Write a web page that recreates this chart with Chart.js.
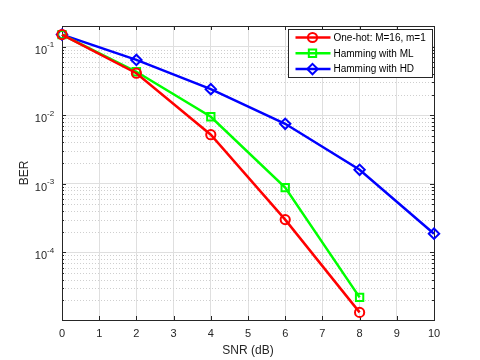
<!DOCTYPE html>
<html>
<head>
<meta charset="utf-8">
<script src="https://cdn.jsdelivr.net/npm/chart.js@4/dist/chart.umd.min.js"></script>
<style>
  html, body { margin: 0; padding: 0; background: #fff; }
</style>
</head>
<body>
<canvas id="chart" width="480" height="360"></canvas>
<script>
// values
const snrDb = [0, 2, 4, 6, 8, 10];
const berOneHot = [0.15, 0.041, 0.0052, 0.0003, 1.33e-5, null];
const berHammingMl = [0.15, 0.043, 0.0095, 0.00088, 2.2e-5, null];
const berHammingHd = [0.15, 0.064, 0.024, 0.0075, 0.0016, 0.000187];
const seriesNames = ['One-hot: M=16, m=1', 'Hamming with ML', 'Hamming with HD'];
const xTickValues = [0, 1, 2, 3, 4, 5, 6, 7, 8, 9, 10];
const yDecades = [-4, -3, -2, -1];
const yLimits = [1.03e-5, 0.2];

const AXIS_COLOR = '#262626';
const FONT = '"Liberation Sans", Helvetica, Arial, sans-serif';

function toPoints(values) {
  return snrDb
    .map((x, i) => ({ x, y: values[i] }))
    .filter((p) => p.y !== null);
}

function minorValues() {
  const out = [];
  for (let e = -5; e <= -1; e++) {
    for (let m = 2; m <= 9; m++) {
      const v = m * Math.pow(10, e);
      if (v > yLimits[0] && v < yLimits[1]) out.push(v);
    }
  }
  return out;
}

function series(label, values, color, pointStyle, radius) {
  return {
    label,
    data: toPoints(values),
    borderColor: color,
    backgroundColor: 'rgba(0,0,0,0)',
    borderWidth: 2.5,
    pointStyle,
    pointRadius: radius,
    pointBorderWidth: 2,
    pointBackgroundColor: 'rgba(0,0,0,0)',
    tension: 0,
    clip: false,
  };
}

const datasets = [
  series(seriesNames[0], berOneHot, '#ff0000', 'circle', 4.6),
  series(seriesNames[1], berHammingMl, '#00ff00', 'rect', 5.2),
  series(seriesNames[2], berHammingHd, '#0000ff', 'rectRot', 5.2),
];

// same shapes as Chart.js point styles, for the legend
function drawMarker(ctx, style, x, y, r) {
  ctx.beginPath();
  if (style === 'circle') {
    ctx.arc(x, y, r, 0, Math.PI * 2);
  } else if (style === 'rect') {
    const s = r * Math.SQRT1_2;
    ctx.rect(x - s, y - s, s * 2, s * 2);
  } else {
    ctx.moveTo(x, y - r);
    ctx.lineTo(x + r, y);
    ctx.lineTo(x, y + r);
    ctx.lineTo(x - r, y);
    ctx.closePath();
  }
  ctx.stroke();
}

const matlabAxes = {
  id: 'matlabAxes',
  beforeDatasetsDraw(chart) {
    const { ctx, chartArea: a, scales: { x, y } } = chart;
    ctx.save();

    // dotted minor grid
    ctx.strokeStyle = '#cfcfcf';
    ctx.lineWidth = 1;
    ctx.setLineDash([1, 2]);
    ctx.beginPath();
    minorValues().forEach((v) => {
      const py = Math.round(y.getPixelForValue(v)) + 0.5;
      ctx.moveTo(a.left, py);
      ctx.lineTo(a.right, py);
    });
    ctx.stroke();
    ctx.setLineDash([]);

    // inward tick marks on all four sides
    ctx.strokeStyle = AXIS_COLOR;
    ctx.beginPath();
    xTickValues.forEach((v) => {
      const px = Math.round(x.getPixelForValue(v)) + 0.5;
      ctx.moveTo(px, a.bottom);
      ctx.lineTo(px, a.bottom - 4);
      ctx.moveTo(px, a.top);
      ctx.lineTo(px, a.top + 4);
    });
    yDecades.forEach((e) => {
      const py = Math.round(y.getPixelForValue(Math.pow(10, e))) + 0.5;
      ctx.moveTo(a.left, py);
      ctx.lineTo(a.left + 4, py);
      ctx.moveTo(a.right, py);
      ctx.lineTo(a.right - 4, py);
    });
    minorValues().forEach((v) => {
      const py = Math.round(y.getPixelForValue(v)) + 0.5;
      ctx.moveTo(a.left, py);
      ctx.lineTo(a.left + 2, py);
      ctx.moveTo(a.right, py);
      ctx.lineTo(a.right - 2, py);
    });
    ctx.stroke();

    ctx.strokeRect(Math.round(a.left) + 0.5, Math.round(a.top) + 0.5,
      Math.round(a.right - a.left), Math.round(a.bottom - a.top));
    ctx.restore();
  },
  afterDraw(chart) {
    const { ctx, chartArea: a, scales: { y } } = chart;
    ctx.save();

    // y tick labels as 10 with a raised exponent
    ctx.fillStyle = AXIS_COLOR;
    yDecades.forEach((e) => {
      const py = y.getPixelForValue(Math.pow(10, e));
      const baseRight = a.left - 15;
      ctx.font = '11px ' + FONT;
      ctx.textAlign = 'right';
      ctx.textBaseline = 'middle';
      ctx.fillText('10', baseRight, py + 4);
      ctx.font = '8px ' + FONT;
      ctx.textAlign = 'left';
      ctx.fillText(String(e), baseRight, py - 1.5);
    });

    // legend box in the upper right corner
    const lw = 144, lh = 48;
    const lx = Math.round(a.right - 2 - lw) + 0.5;
    const ly = Math.round(a.top + 3) + 0.5;
    ctx.fillStyle = '#ffffff';
    ctx.fillRect(lx, ly, lw, lh);
    ctx.strokeStyle = AXIS_COLOR;
    ctx.lineWidth = 1;
    ctx.strokeRect(lx, ly, lw, lh);

    chart.data.datasets.forEach((ds, i) => {
      const ry = ly + 8 + i * 15.8;
      ctx.strokeStyle = ds.borderColor;
      ctx.lineWidth = 2.5;
      ctx.beginPath();
      ctx.moveTo(lx + 7, ry);
      ctx.lineTo(lx + 42, ry);
      ctx.stroke();
      ctx.lineWidth = 2;
      drawMarker(ctx, ds.pointStyle, lx + 24, ry, ds.pointRadius);
      ctx.fillStyle = '#000000';
      ctx.font = '10px ' + FONT;
      ctx.textAlign = 'left';
      ctx.textBaseline = 'middle';
      ctx.fillText(ds.label, lx + 45, ry + 0.5);
    });
    ctx.restore();
  },
};

new Chart(document.getElementById('chart'), {
  type: 'line',
  data: { datasets },
  options: {
    responsive: false,
    animation: false,
    layout: { padding: { top: 26, right: 46, bottom: 0, left: 0 } },
    plugins: {
      legend: { display: false },
      tooltip: { enabled: false },
    },
    scales: {
      x: {
        type: 'linear',
        min: 0,
        max: 10,
        afterFit: (scale) => { scale.height = 40; },
        ticks: {
          stepSize: 1,
          color: AXIS_COLOR,
          font: { family: FONT, size: 11 },
          padding: 7.5,
        },
        grid: { color: '#dfdfdf', drawTicks: false },
        border: { display: false },
        title: {
          display: true,
          text: 'SNR (dB)',
          color: AXIS_COLOR,
          font: { family: FONT, size: 12 },
          padding: { top: 0, bottom: 2.3 },
        },
      },
      y: {
        type: 'logarithmic',
        min: yLimits[0],
        max: yLimits[1],
        afterFit: (scale) => { scale.width = 62; },
        afterBuildTicks: (scale) => {
          scale.ticks = yDecades.map((e) => ({ value: Math.pow(10, e) }));
        },
        ticks: { display: false },
        grid: { color: '#dfdfdf', drawTicks: false },
        border: { display: false },
        title: {
          display: true,
          text: 'BER',
          color: AXIS_COLOR,
          font: { family: FONT, size: 12 },
          padding: { top: 17.8, bottom: 0 },
        },
      },
    },
  },
  plugins: [matlabAxes],
});
</script>
</body>
</html>
